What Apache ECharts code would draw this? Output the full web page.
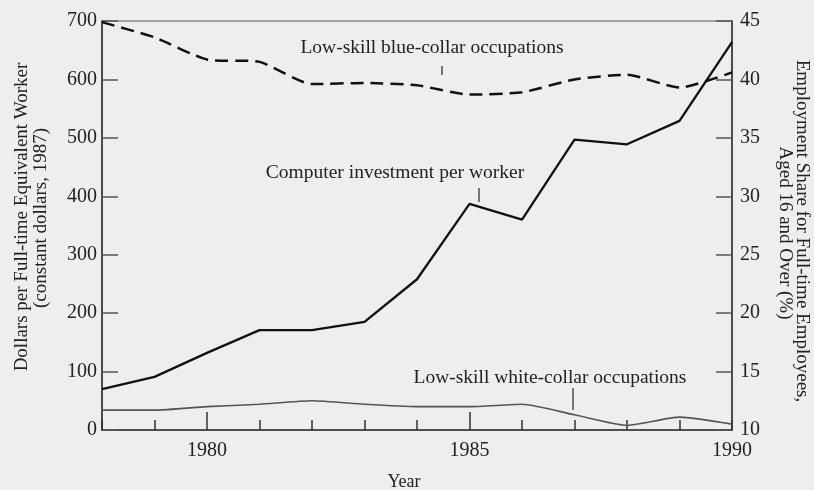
<!DOCTYPE html>
<html>
<head>
<meta charset="utf-8">
<script src="https://cdn.jsdelivr.net/npm/echarts@6/dist/echarts.min.js"></script>
<style>
  html, body { margin: 0; padding: 0; background: #eeeeec; }
  #main { width: 814px; height: 490px; }
</style>
</head>
<body>
<div id="main"></div>
<script>
  // years on the x axis
  const years = [1978, 1979, 1980, 1981, 1982, 1983, 1984, 1985, 1986, 1987, 1988, 1989, 1990]
  // dollars per worker, left axis
  const computerInvestment = [70, 91, 132, 171, 171, 185, 258, 387, 360, 497, 489, 529, 664]
  // employment share (%), right axis
  const blueCollar = [44.9, 43.6, 41.7, 41.5, 39.6, 39.7, 39.5, 38.7, 38.9, 40.0, 40.4, 39.3, 40.6]
  const whiteCollar = [11.7, 11.7, 12.0, 12.2, 12.5, 12.2, 12.0, 12.0, 12.2, 11.3, 10.4, 11.1, 10.5]
  const xLabels = [1980, 1985, 1990]

  const serif = '"Liberation Serif", "DejaVu Serif", serif'
  const ink = '#222'

  function pairs (vals) {
    return years.map((y, i) => [y, vals[i]])
  }

  function txt (s, x, y, size, rot) {
    return {
      type: 'text', x: x, y: y, rotation: rot || 0,
      style: { text: s, font: size + 'px ' + serif, fill: ink, textAlign: 'center', textVerticalAlign: 'middle' }
    }
  }

  function leader (x, y1, y2) {
    return { type: 'line', shape: { x1: x, y1: y1, x2: x, y2: y2 }, style: { stroke: '#333', lineWidth: 1.3 } }
  }

  const chart = echarts.init(document.getElementById('main'))
  chart.setOption({
    backgroundColor: '#eeeeec',
    animation: false,
    grid: {
      left: 102, right: 82, top: 21, bottom: 60,
      show: true, borderColor: '#555', borderWidth: 1.2
    },
    xAxis: [
      {
        type: 'value', min: 1978, max: 1990, interval: 1,
        axisLine: { lineStyle: { color: '#333', width: 1.5 } },
        axisTick: { inside: true, length: 10, lineStyle: { color: '#333', width: 1.5 } },
        axisLabel: {
          customValues: xLabels, color: ink, fontFamily: serif, fontSize: 20, margin: 11,
          formatter: v => String(v)
        },
        splitLine: { show: false }
      },
      {
        // longer ticks at 1980 and 1985
        type: 'value', min: 1978, max: 1990, interval: 1, position: 'bottom',
        axisLine: { show: false },
        axisTick: { inside: true, length: 18, customValues: [1980, 1985], lineStyle: { color: '#333', width: 1.5 } },
        axisLabel: { show: false },
        splitLine: { show: false }
      }
    ],
    yAxis: [
      {
        type: 'value', min: 0, max: 700, interval: 100,
        axisLine: { show: true, lineStyle: { color: '#333', width: 1.5 } },
        axisTick: { show: true, inside: true, length: 16, lineStyle: { color: '#555', width: 1.5 } },
        axisLabel: { color: ink, fontFamily: serif, fontSize: 20, margin: 5 },
        splitLine: { show: false }
      },
      {
        type: 'value', min: 10, max: 45, interval: 5, position: 'right',
        axisLine: { show: true, lineStyle: { color: '#333', width: 1.5 } },
        axisTick: { show: true, inside: true, length: 16, lineStyle: { color: '#555', width: 1.5 } },
        axisLabel: { color: ink, fontFamily: serif, fontSize: 20, margin: 8 },
        splitLine: { show: false }
      }
    ],
    series: [
      {
        name: 'Computer investment per worker',
        type: 'line', yAxisIndex: 0, showSymbol: false,
        lineStyle: { color: '#111', width: 2.3 },
        data: pairs(computerInvestment)
      },
      {
        name: 'Low-skill blue-collar occupations',
        type: 'line', yAxisIndex: 1, showSymbol: false, smooth: 0.2,
        lineStyle: { color: '#111', width: 2.5, type: [13, 7] },
        data: pairs(blueCollar)
      },
      {
        name: 'Low-skill white-collar occupations',
        type: 'line', yAxisIndex: 1, showSymbol: false, smooth: 0.2,
        lineStyle: { color: '#555', width: 1.6 },
        data: pairs(whiteCollar)
      }
    ],
    graphic: [
      // annotations and leaders
      txt('Low-skill blue-collar occupations', 432, 48, 19.5),
      leader(442, 66, 75),
      txt('Computer investment per worker', 395, 173, 19.5),
      leader(479, 188, 202),
      txt('Low-skill white-collar occupations', 550, 378, 19.5),
      leader(573, 388, 410),
      // axis titles
      txt('Dollars per Full-time Equivalent Worker', 22, 217, 19, Math.PI / 2),
      txt('(constant dollars, 1987)', 41, 218, 19, Math.PI / 2),
      txt('Employment Share for Full-time Employees,', 802, 231, 19, -Math.PI / 2),
      txt('Aged 16 and Over (%)', 785, 233, 19, -Math.PI / 2),
      txt('Year', 404, 482, 18)
    ]
  })
</script>
</body>
</html>
